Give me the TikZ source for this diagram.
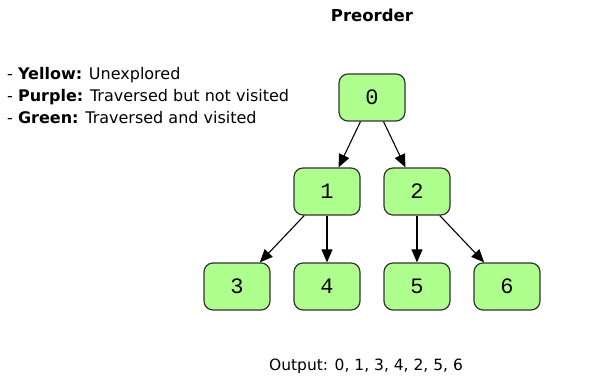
\documentclass[tikz,border=0pt]{standalone}
\usepackage{fontspec}
\setmainfont{DejaVu Sans}
\newfontfamily\digitfont{Liberation Mono}
\usetikzlibrary{arrows.meta}
\definecolor{nodegreen}{HTML}{AEFF8E}
\definecolor{nodeedge}{HTML}{333333}
\begin{document}
\begin{tikzpicture}[x=1pt,y=-1pt,
  treenode/.style={draw=nodeedge, line width=1.2pt, fill=nodegreen, rounded corners=9pt,
    minimum width=66pt, minimum height=47pt, inner sep=0pt, font=\digitfont\fontsize{22}{22}\selectfont},
  treeedge/.style={-{Triangle[length=13pt,width=11pt]}, line width=1.1pt, black},
  legendtext/.style={anchor=west, inner sep=0pt, font=\fontsize{16}{18}\selectfont}]
  \useasboundingbox (0,0) rectangle (592,385);
  \fill[white] (0,0) rectangle (592,385);

  \node[font=\bfseries\fontsize{16.5}{18}\selectfont] (title) at (372,15) {Preorder};

  \node[legendtext] (leg1) at (7,75) {- \textbf{Yellow:} Unexplored};
  \node[legendtext] (leg2) at (7,97) {- \textbf{Purple:} Traversed but not visited};
  \node[legendtext] (leg3) at (7,118) {- \textbf{Green:} Traversed and visited};

  \node[treenode] (n0) at (372,97.5) {0};
  \node[treenode] (n1) at (327,191.5) {1};
  \node[treenode] (n2) at (417,191.5) {2};
  \node[treenode] (n3) at (237,286.5) {3};
  \node[treenode] (n4) at (327,286.5) {4};
  \node[treenode] (n5) at (417,286.5) {5};
  \node[treenode] (n6) at (507,286.5) {6};

  \draw[treeedge] (n0) -- (n1);
  \draw[treeedge] (n0) -- (n2);
  \draw[treeedge] (n1) -- (n3);
  \draw[treeedge] (n1) -- (n4);
  \draw[treeedge] (n2) -- (n5);
  \draw[treeedge] (n2) -- (n6);

  \node[font=\fontsize{15.5}{17}\selectfont] (out) at (366,366) {Output: 0, 1, 3, 4, 2, 5, 6};
\end{tikzpicture}
\end{document}
